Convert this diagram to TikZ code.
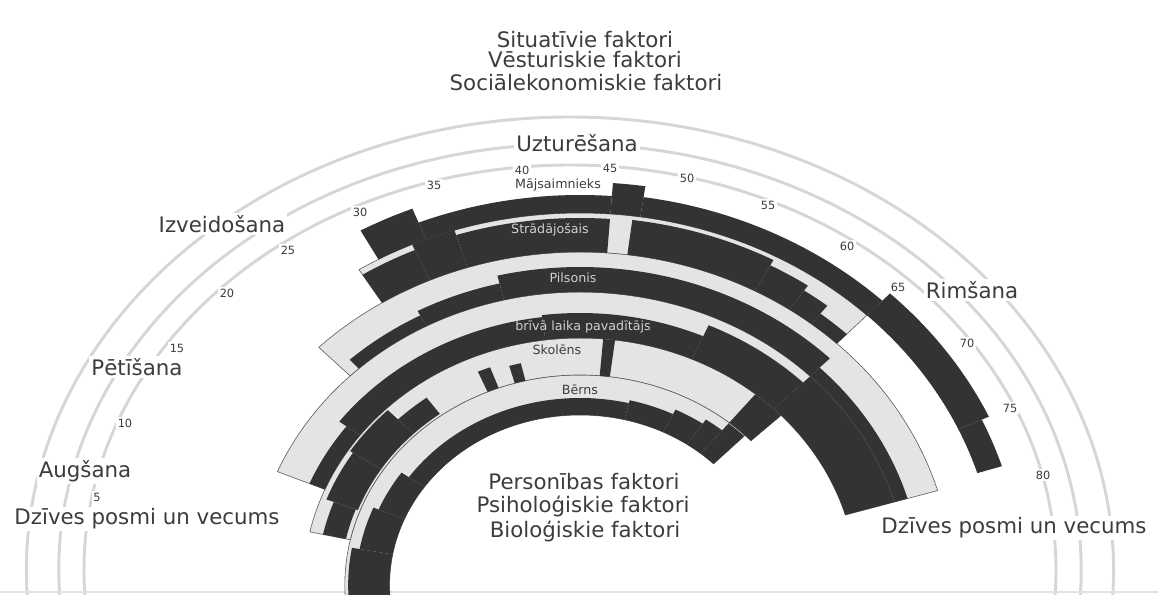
\documentclass[tikz,border=0pt]{standalone}
\usepackage{fontspec}
\setmainfont{DejaVu Sans}
\definecolor{ink}{HTML}{333333}
\definecolor{pale}{HTML}{E4E4E4}
\definecolor{rimgrey}{HTML}{D6D6D6}
\definecolor{edgegrey}{HTML}{5A5A5A}
\definecolor{txt}{HTML}{3C3C3C}
\definecolor{onink}{HTML}{D0D0D0}
% annular sector between two ages (angle = 180 - 2.07*age) and two radii
\newcommand{\agesector}[5]{%
  \pgfmathsetmacro{\angA}{180-2.07*(#2)}%
  \pgfmathsetmacro{\angB}{180-2.07*(#3)}%
  \path[#1] (\angA:#4) arc[start angle=\angA, end angle=\angB, radius=#4]
    -- (\angB:#5) arc[start angle=\angB, end angle=\angA, radius=#5] -- cycle;}
\begin{document}
\begin{tikzpicture}[x=0.75pt,y=0.75pt,
  bandbg/.style={fill=pale, draw=edgegrey, line width=0.45pt},
  role/.style={fill=ink},
  rimline/.style={draw=rimgrey, line width=2.2pt},
  stage/.style={font=\fontsize{16}{18}\selectfont, text=txt, fill=white, inner sep=1.5pt},
  inner/.style={font=\fontsize{16}{18}\selectfont, text=txt, inner sep=1pt},
  agelbl/.style={font=\fontsize{8.5}{10}\selectfont, text=txt, fill=white, inner sep=1.2pt},
  rolelbl/.style={font=\fontsize{9.5}{11}\selectfont, text=onink, inner sep=0pt},
  rolelbldark/.style={font=\fontsize{9.5}{11}\selectfont, text=txt, inner sep=0pt}]
\useasboundingbox (0,0) rectangle (1158,595);
\clip (0,0) rectangle (1158,595);

% outer guide circles
\begin{scope}[shift={(570,25)}, xscale=1.2]
  \draw[rimline] (184:453) arc[start angle=184, end angle=-4, radius=453];
  \draw[rimline] (184:426) arc[start angle=184, end angle=-4, radius=426];
  \draw[rimline] (184:405) arc[start angle=184, end angle=-4, radius=405];
\end{scope}
\draw[rimgrey!70, line width=0.8pt] (0,3) -- (1158,3);

% the life roles
\begin{scope}[shift={(580,10)}, xscale=1.12]
  % Bērns
  \agesector{bandbg}{-3}{65}{170}{210}
  \agesector{role}{-3}{5}{170}{207}
  \agesector{role}{5}{11}{170}{200}
  \agesector{role}{11}{17}{170}{195}
  \agesector{role}{17}{50}{170}{187}
  \agesector{role}{50}{56}{170}{190}
  \agesector{role}{56}{60}{170}{195}
  \agesector{role}{60}{62.5}{170}{200}
  \agesector{role}{62.5}{65}{170}{209}
  % Skolēns
  \agesector{bandbg}{6}{66}{210}{247}
  \agesector{role}{6}{10}{214}{235}
  \agesector{role}{10}{16}{212}{242}
  \agesector{role}{16}{22}{212}{245}
  \agesector{role}{22}{26}{212}{232}
  \agesector{role}{32.3}{33.7}{210}{232}
  \agesector{role}{35.7}{37}{210}{228}
  \agesector{role}{45.8}{47}{210}{247}
  \agesector{role}{62.5}{66}{210}{247}
  % brīvā laika pavadītājs
  \agesector{bandbg}{11}{79}{247}{293}
  \agesector{role}{11}{18}{247}{262}
  \agesector{role}{18}{40}{247}{270}
  \agesector{role}{40}{55}{247}{272}
  \agesector{role}{55}{65}{247}{284}
  \agesector{role}{65}{79}{247}{293}
  % Pilsonis
  \agesector{bandbg}{22}{79}{293}{333}
  \agesector{role}{23}{30}{293}{305}
  \agesector{role}{30}{37}{293}{310}
  \agesector{role}{37}{65}{293}{318}
  \agesector{role}{65}{79}{293}{305}
  % Strādājošais
  \agesector{bandbg}{28}{64.5}{333}{372}
  \agesector{role}{28}{32}{333}{366}
  \agesector{role}{32}{35}{333}{372}
  \agesector{role}{35}{45.5}{333}{367}
  \agesector{role}{47}{57}{333}{368}
  \agesector{role}{57}{60}{333}{362}
  \agesector{role}{60}{62}{333}{356}
  \agesector{role}{62}{64.5}{333}{346}
  % Mājsaimnieks
  \agesector{role}{29.5}{33}{372}{405}
  \agesector{role}{33}{45.5}{372}{390}
  \agesector{role}{45.5}{47.5}{372}{403}
  \agesector{role}{47.5}{64.5}{372}{392}
  \agesector{role}{64.5}{75}{372}{402}
  \agesector{role}{75}{78.5}{372}{395}
\end{scope}

% role names
\node[rolelbldark] (mj) at (558,410) {Mājsaimnieks};
\node[rolelbl] (st) at (550,365) {Strādājošais};
\node[rolelbl] (pi) at (573,317) {Pilsonis};
\node[rolelbl] (bl) at (583,268) {brīvā laika pavadītājs};
\node[rolelbldark] (sk) at (557,245) {Skolēns};
\node[rolelbldark] (be) at (580,205) {Bērns};

% ages
\node[agelbl] (a5) at (97,98) {5};
\node[agelbl] (a10) at (125,172) {10};
\node[agelbl] (a15) at (177,247) {15};
\node[agelbl] (a20) at (227,302) {20};
\node[agelbl] (a25) at (288,345) {25};
\node[agelbl] (a30) at (360,383) {30};
\node[agelbl] (a35) at (434,410) {35};
\node[agelbl] (a40) at (522,425) {40};
\node[agelbl] (a45) at (610,427) {45};
\node[agelbl] (a50) at (687,417) {50};
\node[agelbl] (a55) at (768,390) {55};
\node[agelbl] (a60) at (847,349) {60};
\node[agelbl] (a65) at (898,308) {65};
\node[agelbl] (a70) at (967,252) {70};
\node[agelbl] (a75) at (1010,187) {75};
\node[agelbl] (a80) at (1043,120) {80};

% life stages
\node[stage] (s1) at (85,124) {Augšana};
\node[stage] (s2) at (137,228) {Pētīšana};
\node[stage] (s3) at (222,371) {Izveidošana};
\node[stage] (s4) at (577,452) {Uzturēšana};
\node[stage] (s5) at (972,305) {Rimšana};
\node[stage] (lv) at (147,76) {Dzīves posmi un vecums};
\node[stage] (rv) at (1014,67) {Dzīves posmi un vecums};

% outer factors
\node[inner] (f1) at (585,555) {Situatīvie faktori};
\node[inner] (f2) at (585,535) {Vēsturiskie faktori};
\node[inner] (f3) at (586,512) {Sociālekonomiskie faktori};
% inner factors
\node[inner] (g1) at (584,113) {Personības faktori};
\node[inner] (g2) at (583,89) {Psiholoģiskie faktori};
\node[inner] (g3) at (585,64) {Bioloģiskie faktori};
\end{tikzpicture}
\end{document}
